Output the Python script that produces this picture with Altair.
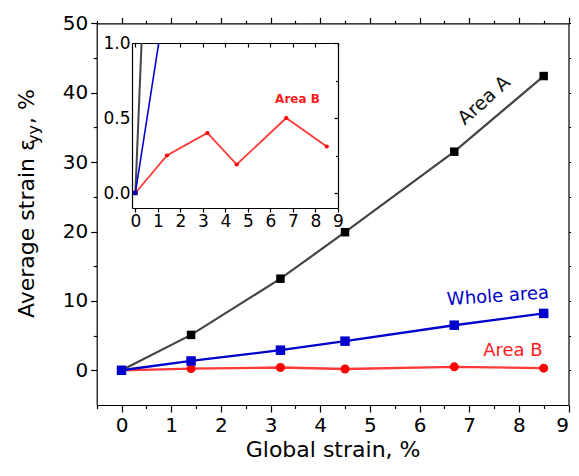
import altair as alt
import pandas as pd

# ---------------- data ----------------
global_strain = [0, 1.4, 3.2, 4.5, 6.7, 8.5]
area_a = [0, 5.1, 13.2, 19.9, 31.5, 42.4]
whole_area = [0, 1.35, 2.9, 4.2, 6.5, 8.2]
area_b = [0, 0.25, 0.40, 0.19, 0.50, 0.31]
series_names = ["Area A", "Area B", "Whole area"]

line_colors = ["#444444", "#ff3838", "#0000cc"]
point_colors = ["#000000", "#ff0000", "#0000cc"]
point_shapes = ["square", "circle", "square"]

x_major = [0, 1, 2, 3, 4, 5, 6, 7, 8, 9]
x_minor = [-0.5, 0.5, 1.5, 2.5, 3.5, 4.5, 5.5, 6.5, 7.5, 8.5]
y_major = [0, 10, 20, 30, 40, 50]
y_minor = [5, 15, 25, 35, 45]
inset_y_major = [0.0, 0.5, 1.0]
inset_y_minor = [0.25, 0.75]

ann_text = ["Area A", "Whole area", "Area B"]
ann_x = [7.3, 7.58, 7.88]
ann_y = [38.9, 10.6, 2.85]
ann_angle = [318, 356, 0]
ann_size = [19, 18, 18]
ann_color = ["#111111", "#0000cc", "#ff1a1a"]

inset_label = ["Area B"]
inset_label_x = [7.2]
inset_label_y = [0.63]

y_title_parts = ["Average strain \u03b5", "yy", ", %"]

FONT = "DejaVu Sans"

rows = []
for name, vals in zip(series_names, [area_a, area_b, whole_area]):
    for gx, v in zip(global_strain, vals):
        rows.append({"x": gx, "y": v, "series": name})
df = pd.DataFrame(rows)

ann_df = pd.DataFrame({"t": ann_text, "x": ann_x, "y": ann_y,
                       "a": ann_angle, "s": ann_size, "c": ann_color})
inset_lab_df = pd.DataFrame({"t": inset_label, "x": inset_label_x, "y": inset_label_y})

# ---------------- geometry ----------------
W, H = 206, 165
X_RIGHT = 436.5
MX = alt.Scale(domain=[-0.5, 9], range=[-35.3, X_RIGHT], nice=False, zero=False)
MY = alt.Scale(domain=[-5, 50], range=[362, -19.7], nice=False, zero=False)
IX = alt.Scale(domain=[-0.15, 9], range=[0, W], nice=False, zero=False)
IY = alt.Scale(domain=[-0.1, 1.0], range=[H, 0], nice=False, zero=False)

common = dict(domainColor="black", tickColor="black", labelColor="black",
              titleColor="black", grid=False, labelFont=FONT, titleFont=FONT,
              labelOverlap=False, labelFlush=False, domainWidth=1.2, tickWidth=1.2)


def ax(**kw):
    d = dict(common)
    d.update(kw)
    return alt.Axis(**d)


def nolab(orient, offset, values, size, domain=True):
    return ax(orient=orient, offset=offset, values=values, tickSize=size,
              labels=False, domain=domain, title="")


color_line = alt.Color("series:N", scale=alt.Scale(domain=series_names, range=line_colors), legend=None)
color_pt = alt.Color("series:N", scale=alt.Scale(domain=series_names, range=point_colors), legend=None)
shape_pt = alt.Shape("series:N", scale=alt.Scale(domain=series_names, range=point_shapes), legend=None)
width_line = alt.StrokeWidth("series:N", scale=alt.Scale(domain=series_names, range=[2.2, 2.4, 2.6]), legend=None)

base = alt.Chart(df)

# main lines with bottom / left labelled axes
main_lines = base.mark_line().encode(
    x=alt.X("x:Q", scale=MX, axis=ax(orient="bottom", offset=197, values=x_major, tickSize=7,
                                      labelFontSize=20, labelPadding=3, format="d",
                                      labelFlush=True,
                                      title="Global strain, %", titleFontSize=22,
                                      titleFontWeight="normal", titleBaseline="alphabetic",
                                      titleY=51)),
    y=alt.Y("y:Q", scale=MY, axis=ax(orient="left", offset=35.3, values=y_major, tickSize=6,
                                      labelFontSize=20, labelPadding=3, format="d", title="")),
    color=color_line, strokeWidth=width_line, order=alt.Order("x:Q"),
)

main_points = base.mark_point(filled=True, opacity=1).encode(
    x=alt.X("x:Q", scale=MX, axis=nolab("bottom", 197, x_minor, 3.5, False)),
    y=alt.Y("y:Q", scale=MY, axis=nolab("left", 35.3, y_minor, 3.5, False)),
    color=color_pt, shape=shape_pt,
    size=alt.Size("series:N", scale=alt.Scale(domain=series_names, range=[72, 90, 72]), legend=None),
)

top_right_major = base.mark_point(opacity=0).encode(
    x=alt.X("x:Q", scale=MX, axis=nolab("top", 19.7, x_major, 6)),
    y=alt.Y("y:Q", scale=MY, axis=nolab("right", X_RIGHT - W, y_major, 4)),
)
top_right_minor = base.mark_point(opacity=0).encode(
    x=alt.X("x:Q", scale=MX, axis=nolab("top", 19.7, x_minor, 3, False)),
    y=alt.Y("y:Q", scale=MY, axis=nolab("right", X_RIGHT - W, y_minor, 2.5, False)),
)

annotations = alt.Chart(ann_df).mark_text(font=FONT).encode(
    x=alt.X("x:Q", scale=MX, axis=None),
    y=alt.Y("y:Q", scale=MY, axis=None),
    text="t:N",
    angle=alt.Angle("a:Q", scale=None),
    size=alt.Size("s:Q", scale=None),
    color=alt.Color("c:N", scale=None),
)

# inset
inset_lines = base.mark_line(clip=True).encode(
    x=alt.X("x:Q", scale=IX, axis=ax(orient="bottom", offset=0, values=x_major, tickSize=4,
                                      labelFontSize=17, labelPadding=1, format="d", title="")),
    y=alt.Y("y:Q", scale=IY, axis=ax(orient="left", offset=0, values=inset_y_major, ticks=False,
                                      labelFontSize=17, labelPadding=2, format=".1f", title="")),
    color=color_line, order=alt.Order("x:Q"),
    strokeWidth=alt.StrokeWidth("series:N", scale=alt.Scale(domain=series_names, range=[2, 1.6, 2.2]), legend=None),
)
inset_points = base.mark_point(filled=True, opacity=1, clip=True).encode(
    x=alt.X("x:Q", scale=IX, axis=nolab("bottom", -H, x_major, 4)),
    y=alt.Y("y:Q", scale=IY, axis=nolab("left", -W, inset_y_major, 4)),
    color=color_pt, shape=shape_pt,
    size=alt.Size("series:N", scale=alt.Scale(domain=series_names, range=[20, 16, 25]), legend=None),
)
inset_minor = base.mark_point(opacity=0).encode(
    x=alt.X("x:Q", scale=IX, axis=None),
    y=alt.Y("y:Q", scale=IY, axis=nolab("left", -W, inset_y_minor, 2.5, False)),
)
inset_text = alt.Chart(inset_lab_df).mark_text(font=FONT, fontSize=12, fontWeight="bold",
                                                 color="#ff1a1a").encode(
    x=alt.X("x:Q", scale=IX, axis=None),
    y=alt.Y("y:Q", scale=IY, axis=None),
    text="t:N",
)

# y-axis title in three pieces (subscript)
t_df1 = pd.DataFrame({"t": [y_title_parts[0]]})
t_df2 = pd.DataFrame({"t": [y_title_parts[1]]})
t_df3 = pd.DataFrame({"t": [y_title_parts[2]]})
yt1 = alt.Chart(t_df1).mark_text(angle=270, align="left", baseline="alphabetic", font=FONT,
                                 fontSize=22, color="black").encode(
    text="t:N", x=alt.value(-98), y=alt.value(275))
yt2 = alt.Chart(t_df2).mark_text(angle=270, align="left", baseline="alphabetic", font=FONT,
                                 fontSize=16, color="black").encode(
    text="t:N", x=alt.value(-93), y=alt.value(101))
yt3 = alt.Chart(t_df3).mark_text(angle=270, align="left", baseline="alphabetic", font=FONT,
                                 fontSize=22, color="black").encode(
    text="t:N", x=alt.value(-98), y=alt.value(81))

chart = alt.layer(
    main_lines, main_points, top_right_major, top_right_minor, annotations,
    inset_lines, inset_points, inset_minor, inset_text, yt1, yt2, yt3,
).resolve_scale(
    x="independent", y="independent", color="independent", shape="independent",
    size="independent", strokeWidth="independent",
).resolve_axis(x="independent", y="independent").properties(
    width=W, height=H,
    autosize=alt.AutoSizeParams(type="none"),
    padding={"left": 124, "top": 35, "right": 233, "bottom": 254},
    background="white",
).configure_view(strokeWidth=0)

chart.save("out.html", embed_options={"renderer": "svg", "actions": False})
